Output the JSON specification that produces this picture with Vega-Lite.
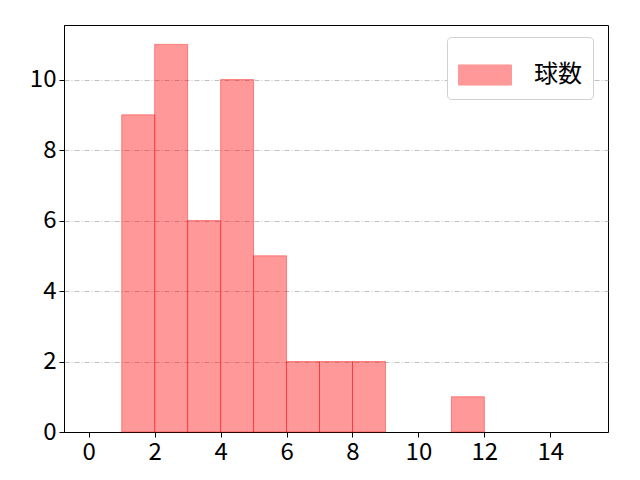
{
  "$schema": "https://vega.github.io/schema/vega-lite/v6.json",
  "width": 544,
  "height": 407,
  "autosize": "none",
  "padding": {"left": 64, "top": 25, "right": 32, "bottom": 48},
  "background": "white",
  "config": {
    "font": "Noto Sans CJK JP",
    "view": {"stroke": "black", "strokeWidth": 1},
    "axis": {
      "labelFont": "Noto Sans CJK JP",
      "labelFontSize": 24,
      "labelColor": "black",
      "domainColor": "black",
      "tickColor": "black",
      "tickSize": 5,
      "labelPadding": 3
    }
  },
  "data": {
    "values": [
      {"start": 1, "end": 2, "count": 9, "series": "球数"},
      {"start": 2, "end": 3, "count": 11, "series": "球数"},
      {"start": 3, "end": 4, "count": 6, "series": "球数"},
      {"start": 4, "end": 5, "count": 10, "series": "球数"},
      {"start": 5, "end": 6, "count": 5, "series": "球数"},
      {"start": 6, "end": 7, "count": 2, "series": "球数"},
      {"start": 7, "end": 8, "count": 2, "series": "球数"},
      {"start": 8, "end": 9, "count": 2, "series": "球数"},
      {"start": 11, "end": 12, "count": 1, "series": "球数"}
    ]
  },
  "mark": {
    "type": "rect",
    "fillOpacity": 0.4,
    "stroke": "red",
    "strokeOpacity": 0.4,
    "strokeWidth": 1
  },
  "encoding": {
    "x": {
      "field": "start",
      "type": "quantitative",
      "scale": {"domain": [-0.75, 15.75], "nice": false, "zero": false},
      "axis": {"title": null, "values": [0, 2, 4, 6, 8, 10, 12, 14], "grid": false}
    },
    "x2": {"field": "end"},
    "y": {
      "field": "count",
      "type": "quantitative",
      "scale": {"domain": [0, 11.55], "nice": false},
      "axis": {
        "title": null,
        "values": [0, 2, 4, 6, 8, 10],
        "grid": true,
        "gridColor": "#b0b0b0",
        "gridWidth": 0.8,
        "gridDash": [5, 2, 1, 2]
      }
    },
    "y2": {"datum": 0},
    "color": {
      "field": "series",
      "type": "nominal",
      "scale": {"range": ["red"]},
      "legend": {
        "title": null,
        "orient": "none",
        "legendX": 383,
        "legendY": 12,
        "fillColor": "white",
        "strokeColor": "#d0d0d0",
        "cornerRadius": 4,
        "padding": 11,
        "symbolType": "M-1,-0.38H1V0.38H-1Z",
        "symbolSize": 2809,
        "symbolOpacity": 0.4,
        "symbolStrokeColor": "red",
        "symbolStrokeWidth": 1,
        "labelFontSize": 24,
        "labelFont": "Noto Sans CJK JP",
        "labelColor": "black",
        "labelOffset": 22
      }
    }
  }
}
